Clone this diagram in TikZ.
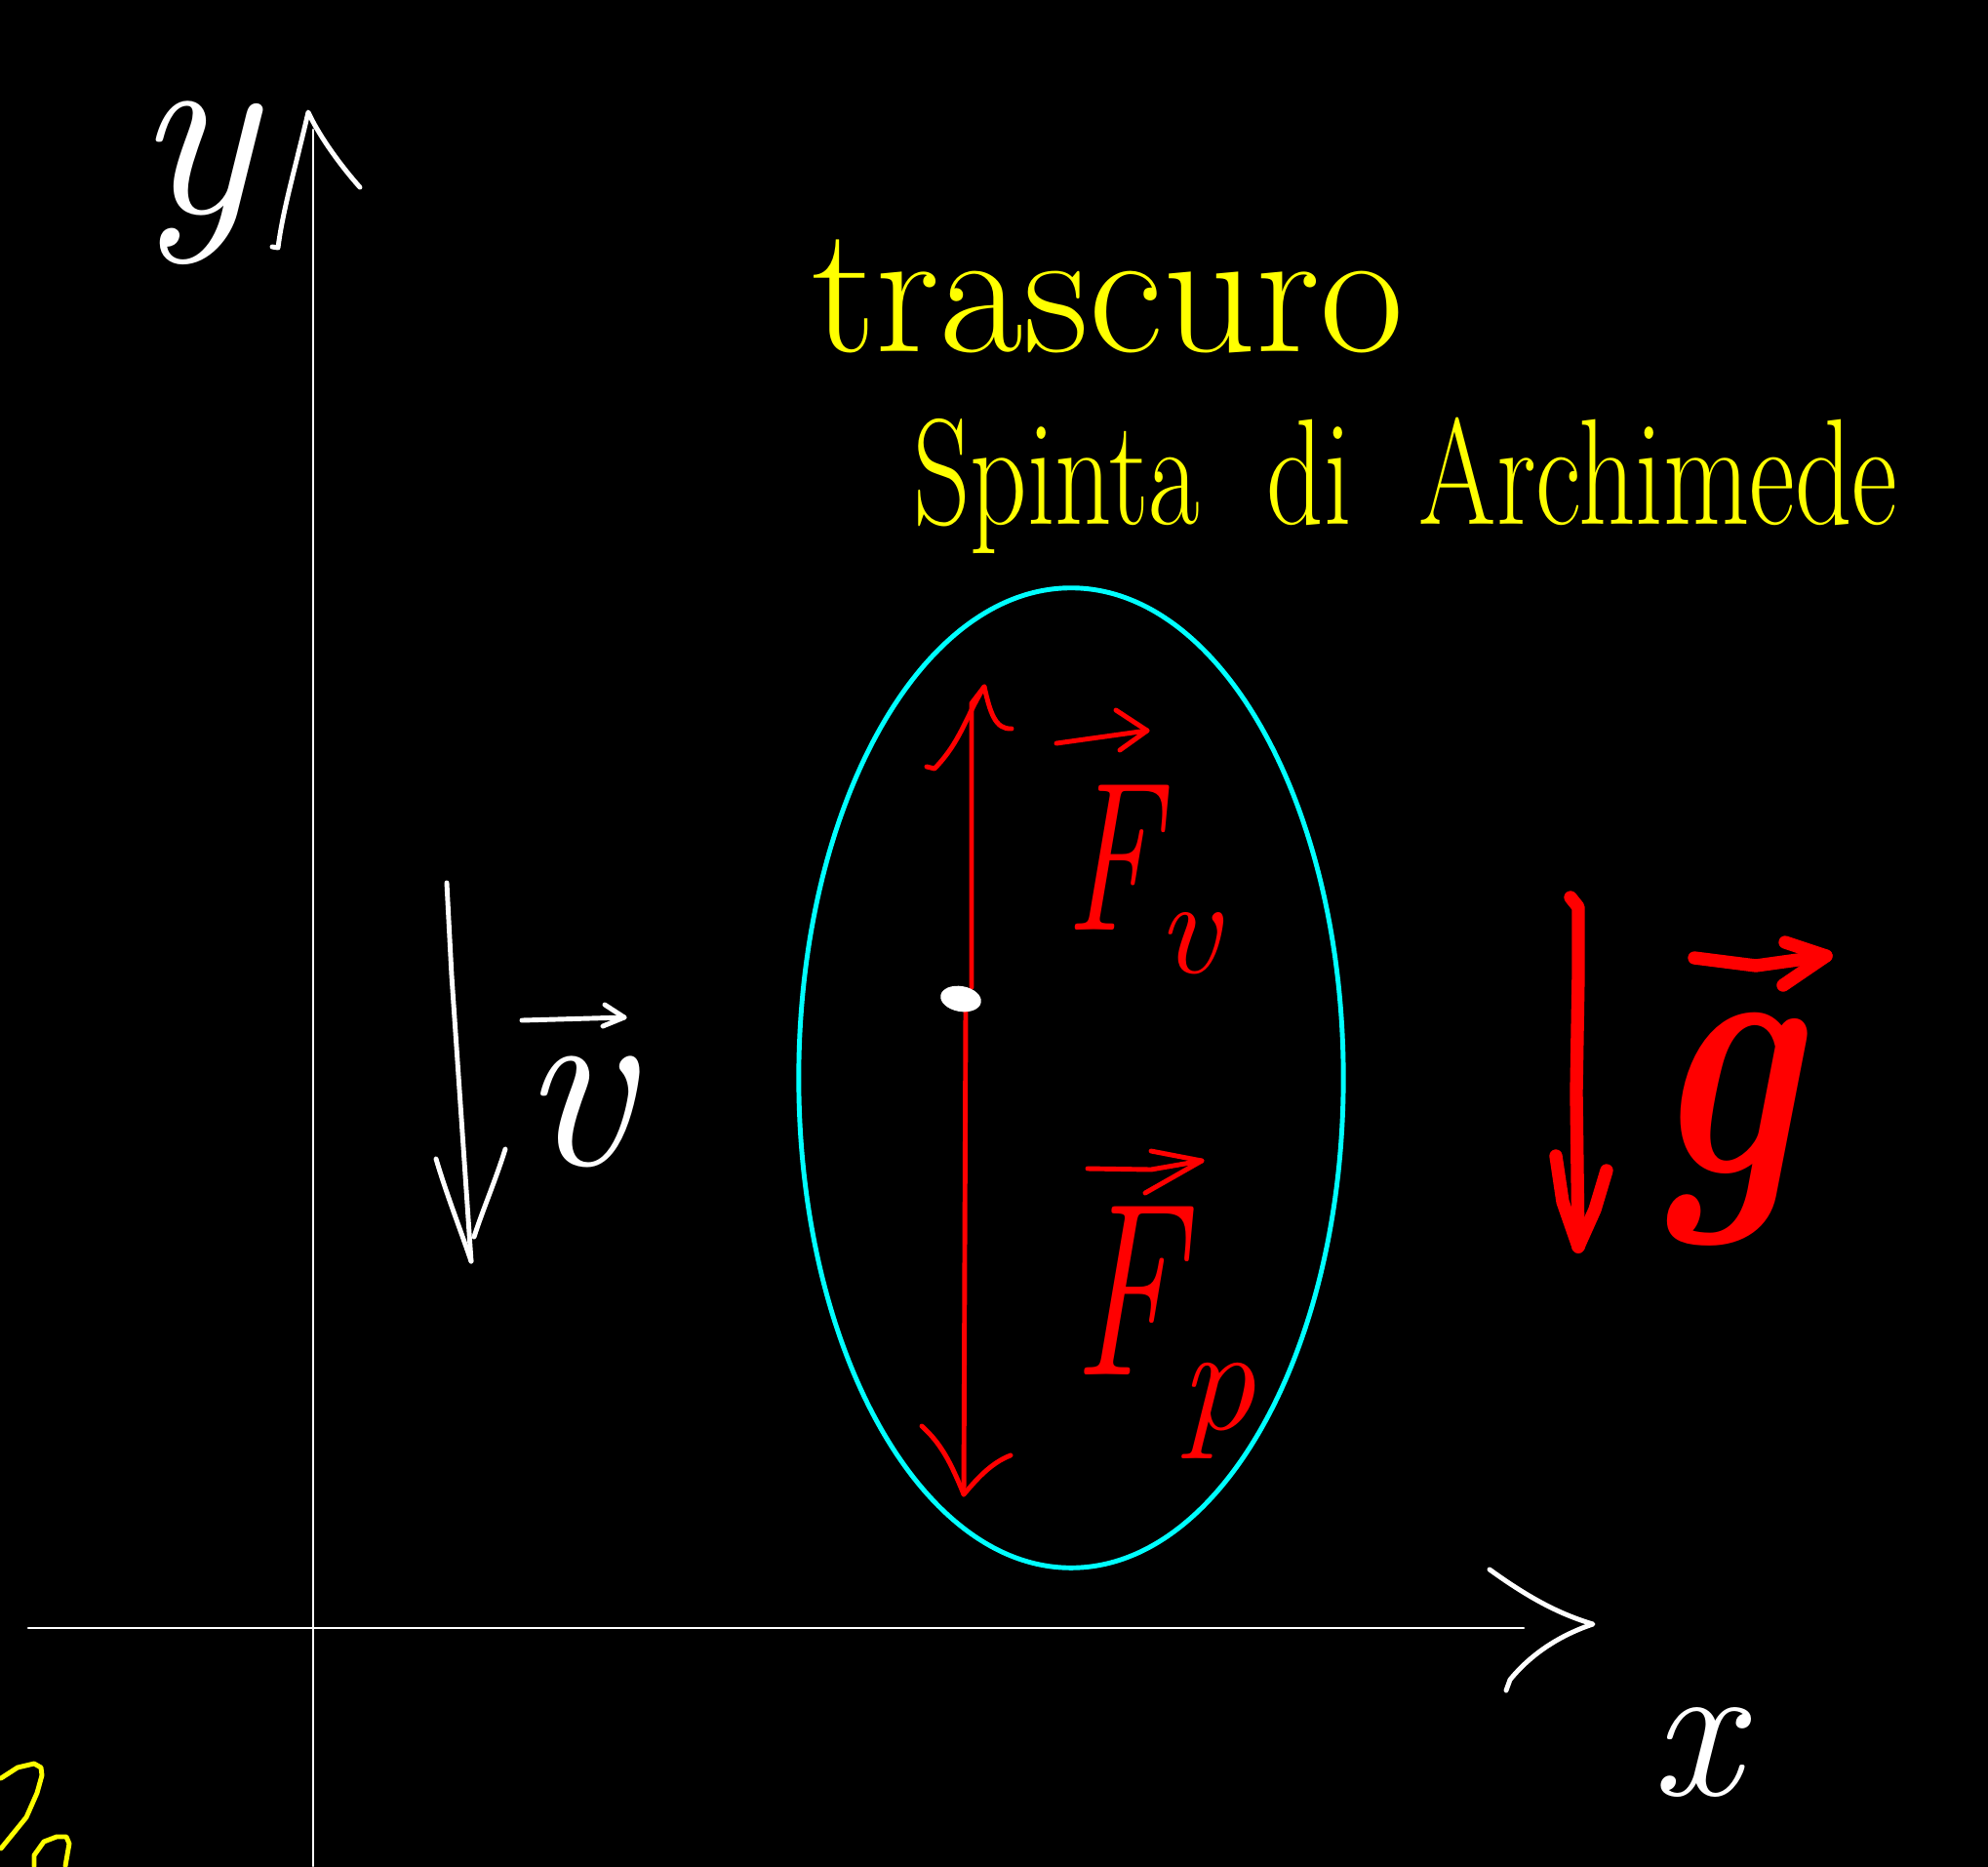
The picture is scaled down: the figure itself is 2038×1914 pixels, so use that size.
\documentclass[tikz,border=0pt]{standalone}
\usepackage{fontspec}
\usepackage{graphicx}
\usetikzlibrary{shapes.geometric}
\definecolor{penyellow}{RGB}{255,255,0}
\definecolor{penred}{RGB}{255,0,0}
\definecolor{pencyan}{RGB}{0,255,255}
\newcommand{\fsz}[1]{\fontsize{#1}{#1}\selectfont}
\begin{document}
\begin{tikzpicture}[x=0.01cm,y=-0.01cm,line cap=round,line join=round,
  axisline/.style={white,line width=0.8pt},
  whitepen/.style={white,line width=1.4pt},
  yellowpen/.style={penyellow,line width=1.4pt},
  forcepen/.style={penred,line width=1.4pt},
  thickpen/.style={penred,line width=3.8pt},
  lbl/.style={inner sep=0pt,outer sep=0pt}]
\fill[black] (0,0) rectangle (2038,1914);
\useasboundingbox (0,0) rectangle (2038,1914);

% axes
\coordinate (ybot) at (321,1913);
\coordinate (ytop) at (321,133);
\coordinate (xleft) at (29,1669);
\coordinate (xright) at (1562,1669);
\draw[axisline] (ybot) -- (ytop);
\draw[axisline] (xleft) -- (xright);
\coordinate (ytip) at (316,115);
\draw[whitepen] (279,253) -- (285,254) .. controls (290,215) and (302,175) .. (ytip)
  .. controls (325,135) and (345,165) .. (369,192);
\coordinate (xtip) at (1633,1665);
\draw[whitepen] (1527,1609) .. controls (1570,1640) and (1600,1655) .. (xtip)
  .. controls (1600,1676) and (1570,1695) .. (1548,1722) -- (1544,1733);

% labels of axes
\node[lbl,white,anchor=base,font=\fsz{74}\itshape] (ylab) at (200,218) {y};
\node[lbl,white,font=\fsz{58}\itshape] (xlab) at (1738,1797) {x};

% yellow notes
\node[lbl,penyellow,anchor=base west,font=\fsz{53}] (note1) at (832,360) {trascuro};
\node[lbl,penyellow,anchor=base west,font=\fsz{44}] (note2) at (936,537)
  {\scalebox{0.74}[1]{Spinta\hspace{0.6em}di\hspace{0.6em}Archimede}};
\draw[yellowpen] (1,1823) -- (18,1812) -- (35,1808) -- (42,1812) -- (43,1820) -- (38,1838) -- (27,1863) -- (1,1895);
\draw[yellowpen] (35,1913) -- (35,1902) -- (45,1888) -- (58,1883) -- (68,1883) -- (71,1890) -- (68,1907) -- (67,1913);

% body
\node[ellipse,draw=pencyan,line width=1.4pt,minimum width=5.58cm,minimum height=10.04cm,inner sep=0pt] (body) at (1098,1105) {};

% forces
\coordinate (Ftop) at (1009,704);
\coordinate (Fbot) at (988,1532);
\coordinate (Pc) at (985,1024);
\draw[forcepen] (996,1012) -- (996,721) -- (Ftop);
\draw[forcepen] (990,1035) -- (Fbot);
\draw[forcepen] (950,786) -- (958,788) .. controls (985,760) and (990,735) .. (Ftop)
  .. controls (1015,730) and (1020,748) .. (1037,747);
\draw[forcepen] (945,1462) .. controls (965,1480) and (975,1500) .. (Fbot)
  .. controls (1000,1518) and (1015,1500) .. (1036,1492);
\node[lbl,fill=white,ellipse,minimum width=0.42cm,minimum height=0.26cm,rotate=-10] (P) at (Pc) {};

\node[lbl,penred,anchor=north west,font=\fsz{62}\itshape] (Fv) at (1092,805)
  {\scalebox{0.68}[1]{F}\raisebox{-0.2em}{\fsz{40}v}};
\node[lbl,penred,anchor=north west,font=\fsz{72}\itshape] (Fp) at (1100,1237)
  {\scalebox{0.68}[1]{F}\raisebox{-0.22em}{\fsz{44}p}};
\coordinate (Fvtip) at (1176,749);
\draw[forcepen] (1083,762) -- (Fvtip);
\draw[forcepen] (1144,728) -- (Fvtip) -- (1148,769);
\coordinate (Fptip) at (1232,1190);
\draw[forcepen] (1115,1198) -- (1180,1199) -- (Fptip);
\draw[forcepen] (1180,1180) -- (Fptip) -- (1174,1223);

% velocity
\coordinate (vtop) at (458,905);
\coordinate (vtip) at (483,1293);
\draw[whitepen] (vtop) -- (463,1000) -- (vtip);
\draw[whitepen] (447,1188) .. controls (458,1225) and (470,1255) .. (vtip);
\draw[whitepen] (518,1178) .. controls (508,1210) and (495,1240) .. (486,1268);
\node[lbl,white,font=\fsz{72}\itshape] (vlab) at (590,1140) {v};
\coordinate (vlabtip) at (640,1043);
\draw[whitepen] (535,1046) -- (vlabtip);
\draw[whitepen] (620,1030) -- (vlabtip) -- (618,1052);

% gravity
\coordinate (gtop) at (1610,920);
\coordinate (gtip) at (1618,1278);
\draw[thickpen] (gtop) -- (1618,930) -- (1618,1000) -- (1616,1120) -- (gtip);
\draw[thickpen] (1595,1185) -- (1602,1232) -- (gtip);
\draw[thickpen] (1647,1200) -- (1635,1240) -- (gtip);
\node[lbl,penred,font=\fsz{104}\bfseries\itshape] (glab) at (1768,1158) {\scalebox{0.78}[1]{g}};
\coordinate (glabtip) at (1872,980);
\draw[thickpen] (1737,982) -- (1800,990) -- (glabtip);
\draw[thickpen] (1830,966) -- (glabtip) -- (1828,1010);
\end{tikzpicture}
\end{document}
